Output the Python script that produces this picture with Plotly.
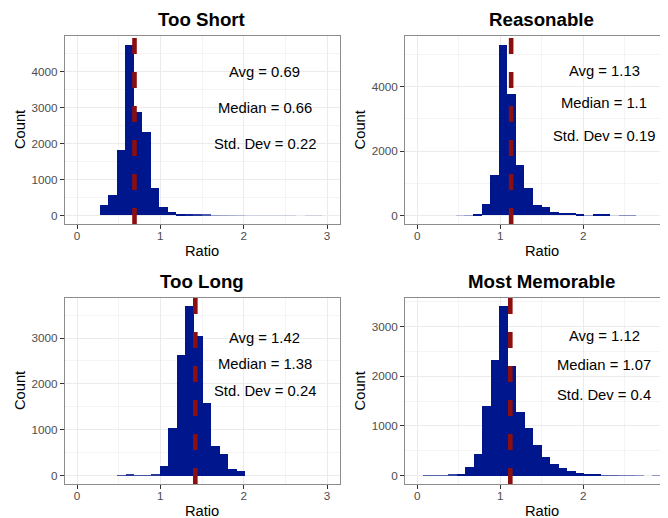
import plotly.graph_objects as go

# ---------------- data ----------------
titles = ["Too Short", "Reasonable", "Too Long", "Most Memorable"]

# histogram bins: first bin left edge, bin width, counts per bin
short_start, short_width = 0.264, 0.1025
short_counts = [280, 560, 1830, 4755, 2870, 2310, 757, 243, 84, 47,
                20, 18, 15, 8, 7, 6, 5, 2, 1, 2, 1, 2, 1, 0, 1, 1, 0]

reason_start, reason_width = 0.462, 0.1033
reason_counts = [5, 8, 50, 363, 1244, 5306, 3772, 1575, 860, 311,
                 249, 93, 83, 73, 40, 8, 28, 28, 3, 10, 10]

long_start, long_width = 0.4755, 0.1025
long_counts = [12, 14, 12, 12, 14, 203, 1036, 2630, 3688, 3050,
               1587, 652, 478, 145, 101]

memo_start, memo_width = 0.064, 0.1023
memo_counts = [10, 10, 10, 12, 33, 174, 435, 1393, 2324, 3409,
               2210, 1279, 958, 623, 375, 241, 147, 94, 54, 30,
               27, 10, 10, 8, 8, 6, 0, 6]

avgs = [0.69, 1.13, 1.42, 1.12]
medians = [0.66, 1.1, 1.38, 1.07]
stds = [0.22, 0.19, 0.24, 0.4]
# y positions of the three text labels in each panel
label_x = 2.25
label_y = [[4000, 3000, 1990], [4490, 3480, 2480], [3000, 2430, 1840], [2810, 2230, 1630]]

x_ticks = [0, 1, 2, 3]
y_ticks = [[0, 1000, 2000, 3000, 4000], [0, 2000, 4000],
           [0, 1000, 2000, 3000], [0, 1000, 2000, 3000]]
y_minor = [500, 1000, 500, 500]

# ---------------- styling ----------------
OFF = 8                      # page body margin of the html page
W, H = 680 - OFF, 518 - OFF  # right-hand panels run past the window edge
BAR = "#00168C"
RED = "#8B0F0F"
FONT = "Liberation Sans, Arial, sans-serif"
GRID = "#EBEBEB"
MINOR = "#F4F4F4"
BORDER = "#8C8C8C"


def px_x(p):
    return (p - OFF) / W


def px_y(p):
    return 1 - (p - OFF) / H


# panel boxes in screen pixels (left, right, top, bottom)
boxes = [
    (64.5, 339.5, 36, 224),
    (404.9, 678.8, 36, 224),
    (64.5, 339.5, 298, 484),
    (404.9, 678.8, 298, 484),
]
x_range = [-0.15, 3.15]

panels = [
    (short_start, short_width, short_counts),
    (reason_start, reason_width, reason_counts),
    (long_start, long_width, long_counts),
    (memo_start, memo_width, memo_counts),
]

fig = go.Figure()
layout = dict(
    width=W, height=H,
    margin=dict(l=0, r=0, t=0, b=0, pad=0),
    paper_bgcolor="white", plot_bgcolor="white",
    showlegend=False,
    font=dict(family=FONT, color="black"),
    bargap=0,
)
shapes = []
annotations = []

for i, (start, width, counts) in enumerate(panels):
    n = i + 1
    xa = "x" if n == 1 else f"x{n}"
    ya = "y" if n == 1 else f"y{n}"
    l, r, t, b = boxes[i]
    m = max(counts)
    yr = [-0.05 * m, 1.05 * m]
    px_per_count = (b - t) / (yr[1] - yr[0])
    centers = [start + (k + 0.5) * width for k in range(len(counts))]
    # sub-pixel bars render faintly (anti-aliasing in the original)
    opac = [max(0.12, min(1.0, c * px_per_count * 1.3)) for c in counts]
    fig.add_trace(go.Bar(
        x=centers, y=counts, width=[width] * len(counts),
        marker=dict(color=BAR, line=dict(width=0), opacity=opac),
        xaxis=xa, yaxis=ya, hoverinfo="x+y",
    ))
    layout[f"xaxis{'' if n == 1 else n}"] = dict(
        domain=[px_x(l), px_x(r)], anchor=ya, range=x_range,
        tickvals=x_ticks, ticktext=[str(v) for v in x_ticks],
        ticks="outside", ticklen=3.7, tickwidth=1, tickcolor="#333333",
        tickfont=dict(size=11.7, color="#4D4D4D", family=FONT),
        ticklabelstandoff=-3,
        showgrid=True, gridcolor=GRID, gridwidth=1,
        minor=dict(dtick=0.5, tick0=0, showgrid=True, gridcolor=MINOR, gridwidth=0.6, ticks=""),
        zeroline=False, showline=True, linecolor=BORDER, linewidth=1, mirror=True,
        fixedrange=True,
    )
    layout[f"yaxis{'' if n == 1 else n}"] = dict(
        domain=[px_y(b), px_y(t)], anchor=xa, range=yr,
        tickvals=y_ticks[i], ticktext=[str(v) for v in y_ticks[i]],
        ticks="outside", ticklen=3.7, tickwidth=1, tickcolor="#333333",
        tickfont=dict(size=11.7, color="#4D4D4D", family=FONT),
        showgrid=True, gridcolor=GRID, gridwidth=1,
        minor=dict(dtick=y_minor[i], tick0=0, showgrid=True, gridcolor=MINOR, gridwidth=0.6, ticks=""),
        zeroline=False, showline=True, linecolor=BORDER, linewidth=1, mirror=True,
        fixedrange=True,
    )
    # dashed mean line
    shapes.append(dict(
        type="line", xref=xa, yref=f"{ya} domain",
        x0=avgs[i], x1=avgs[i], y0=0, y1=1,
        line=dict(color=RED, width=4.6, dash="16px,18px"), layer="above",
    ))
    # stat labels
    texts = [f"Avg = {avgs[i]}", f"Median = {medians[i]}", f"Std. Dev = {stds[i]}"]
    for txt, yv in zip(texts, label_y[i]):
        annotations.append(dict(
            x=label_x, y=yv, xref=xa, yref=ya, text=txt, showarrow=False,
            font=dict(size=14.8, color="black", family=FONT),
            xanchor="center", yanchor="middle",
        ))
    # panel title / axis titles (centred on the panel)
    cx = (l + r) / 2
    annotations.append(dict(
        x=px_x(cx), y=px_y(t - 17), xref="paper", yref="paper",
        text=f"<b>{titles[i]}</b>", showarrow=False,
        font=dict(size=18.7, color="black", family=FONT),
        xanchor="center", yanchor="middle",
    ))
    annotations.append(dict(
        x=px_x(cx), y=px_y(b + 26.5), xref="paper", yref="paper",
        text="Ratio", showarrow=False,
        font=dict(size=14.7, color="black", family=FONT),
        xanchor="center", yanchor="middle",
    ))
    annotations.append(dict(
        x=px_x(l - 44.5), y=px_y((t + b) / 2), xref="paper", yref="paper",
        text="Count", showarrow=False, textangle=-90,
        font=dict(size=14.7, color="black", family=FONT),
        xanchor="center", yanchor="middle",
    ))

layout["shapes"] = shapes
layout["annotations"] = annotations
fig.update_layout(**layout)
fig.write_html("out.html")
